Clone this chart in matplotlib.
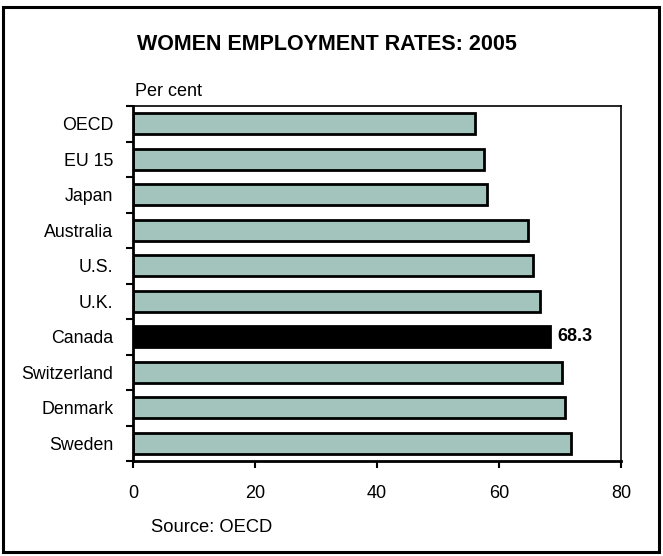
import matplotlib.pyplot as plt
from matplotlib.patches import Rectangle
import numpy as np

plt.rcParams['font.family'] = ['Liberation Sans', 'DejaVu Sans']

# datos
paises = ["OECD", "EU 15", "Japan", "Australia", "U.S.", "U.K.",
          "Canada", "Switzerland", "Denmark", "Sweden"]
tasas = [56.1, 57.6, 58.1, 64.7, 65.6, 66.8, 68.3, 70.4, 70.8, 71.8]
destacado = "Canada"
xticks = [0, 20, 40, 60, 80]

verde_gris = "#a2c4bc"
negro = "#000000"

W, H = 663, 556
fig = plt.figure(figsize=(W / 100, H / 100), dpi=100)

# marco exterior
fig.patches.append(Rectangle((3 / W, 4 / H), 656 / W, 545 / H, transform=fig.transFigure,
                             fill=False, edgecolor=negro, linewidth=2.2))

ax = fig.add_axes([133 / W, 1 - 461 / H, 488 / W, 355 / H])

y = np.arange(len(paises))
colores = [negro if p == destacado else verde_gris for p in paises]
ax.barh(y, tasas, height=0.6, color=colores, edgecolor=negro, linewidth=2)

# etiqueta del destacado
i = paises.index(destacado)
ax.text(tasas[i] + 1.2, y[i], f"{tasas[i]:.1f}", fontsize=13, fontweight="bold",
        va="center", ha="left")

ax.set_xlim(0, 80)
ax.set_ylim(len(paises) - 0.5, -0.5)
ax.set_xticks(xticks)
ax.set_xticklabels([str(v) for v in xticks], fontsize=13)
ax.tick_params(axis="x", direction="out", length=5, width=1.5, pad=12)

# ticks en los limites, etiquetas en el centro
ax.set_yticks(np.arange(-0.5, len(paises), 1.0))
ax.set_yticklabels([])
ax.set_yticks(y, minor=True)
ax.set_yticklabels(paises, minor=True, fontsize=12.8)
ax.tick_params(axis="y", which="major", direction="out", length=5, width=1.5)
ax.tick_params(axis="y", which="minor", length=0, pad=14)

ax.spines['left'].set_linewidth(2)
ax.spines['bottom'].set_linewidth(2)
ax.spines['top'].set_linewidth(1.2)
ax.spines['right'].set_linewidth(1.2)

fig.text(327 / W, 1 - 45 / H, "WOMEN EMPLOYMENT RATES: 2005", fontsize=15.5,
         fontweight="bold", ha="center", va="center")
fig.text(135 / W, 1 - 91 / H, "Per cent", fontsize=13, ha="left", va="center")
fig.text(151 / W, 1 - 527 / H, "Source: OECD", fontsize=13.2, ha="left", va="center")

fig.savefig("out.png", dpi=100)
